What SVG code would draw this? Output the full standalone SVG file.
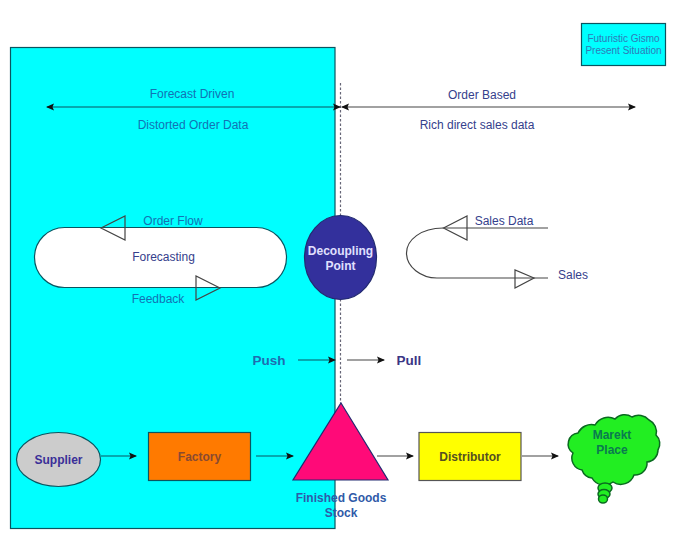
<svg xmlns="http://www.w3.org/2000/svg" width="683" height="553" viewBox="0 0 683 553">
<style>
text{font-family:"Liberation Sans",Arial,sans-serif;text-anchor:middle}
.n{font-size:12px;fill:#35408c}
.t{font-size:12px;fill:#1273b4}
.b{font-size:12px;font-weight:bold;fill:#3a2f98}
.l{stroke:#444;stroke-width:1.200;fill:none}
.c{stroke:#0a5560;stroke-width:1.200;fill:none}
.g{fill:#22ee22;stroke:#0a6a20;stroke-width:1.500}
</style>
<defs>
<marker id="a" markerWidth="8" markerHeight="8" refX="7" refY="4" orient="auto-start-reverse" markerUnits="userSpaceOnUse"><path d="M0 .5L8 4L0 7.500L1.500 4z" fill="#111"/></marker>
</defs>
<rect width="683" height="553" fill="#fff"/>
<rect id="panel" x="10.500" y="47.500" width="324.500" height="481" fill="#00ffff" stroke="#0a5560" stroke-width="1.200"/>
<g id="connectors">
<line x1="340.500" y1="83" x2="340.500" y2="403" stroke="#667" stroke-width="1.200" stroke-dasharray="2.500 2"/>
<line class="c" x1="47" y1="107" x2="340" y2="107" marker-start="url(#a)" marker-end="url(#a)"/>
<line class="l" x1="342" y1="107" x2="635" y2="107" marker-start="url(#a)" marker-end="url(#a)"/>
<line class="c" x1="298" y1="360" x2="335" y2="360" marker-end="url(#a)"/>
<line class="l" x1="347" y1="360" x2="384" y2="360" marker-end="url(#a)"/>
<line class="c" x1="101" y1="456" x2="136" y2="456" marker-end="url(#a)"/>
<line class="c" x1="256" y1="456" x2="293" y2="456" marker-end="url(#a)"/>
<line class="l" x1="377" y1="456" x2="413" y2="456" marker-end="url(#a)"/>
<line class="l" x1="522" y1="456" x2="558" y2="456" marker-end="url(#a)"/>
<path class="l" d="M548 228H443C421 228 406.500 240 406.500 253C406.500 267 421 278 437 278H548"/>
<path class="l" d="M443.500 228L467 216V240Z"/>
<path class="l" d="M534 278L515 270V288Z"/>
</g>
<g id="forecasting">
<rect x="34.500" y="227.500" width="252" height="60" rx="30" fill="#fff" stroke="#0a5560" stroke-width="1.200"/>
<path class="l" d="M101 228L125 216V240Z"/>
<path class="l" d="M220 288L196 276V300Z"/>
<text class="n" x="163.500" y="261">Forecasting</text>
</g>
<g id="decoupling">
<ellipse cx="340.500" cy="257.500" rx="36" ry="42" fill="#33309c" stroke="#222a70" stroke-width="1.200"/>
<text x="340.500" y="255" font-size="12" font-weight="bold" fill="#e0e0ff">Decoupling</text>
<text x="340.500" y="270" font-size="12" font-weight="bold" fill="#e0e0ff">Point</text>
</g>
<g id="supplier">
<ellipse cx="58.500" cy="459.500" rx="42" ry="27" fill="#cccccc" stroke="#0a5560" stroke-width="1.200"/>
<text class="b" x="58.500" y="464">Supplier</text>
</g>
<g id="factory">
<rect x="148.500" y="432.500" width="102" height="48" fill="#ff7a00" stroke="#0a5560" stroke-width="1.200"/>
<text x="199.500" y="461" font-size="12" font-weight="bold" fill="#8a4a30">Factory</text>
</g>
<g id="stock">
<path d="M341 403L388 480H293Z" fill="#ff0a78" stroke="#222a70" stroke-width="1.200"/>
<text class="b" x="341" y="502" style="fill:#2f5aa8">Finished Goods</text>
<text class="b" x="341" y="517" style="fill:#2f5aa8">Stock</text>
</g>
<g id="distributor">
<rect x="419" y="432.500" width="102" height="48" fill="#ffff00" stroke="#555" stroke-width="1.200"/>
<text x="470" y="461" font-size="12" font-weight="bold" fill="#555020">Distributor</text>
</g>
<g id="market">
<path class="g" d="M573 453A11 11 0 0 1 578 433A15 15 0 0 1 595 425A15 15 0 0 1 615 419A13 13 0 0 1 632 417A14 14 0 0 1 649 420A13 13 0 0 1 656 435A12 12 0 0 1 658 450A12 12 0 0 1 647 462A12 12 0 0 1 634 475A14 14 0 0 1 613 482A14 14 0 0 1 592 478A12 12 0 0 1 582 470A12 12 0 0 1 573 453Z"/>
<ellipse class="g" cx="605" cy="488" rx="7" ry="5"/>
<ellipse class="g" cx="604" cy="494" rx="6" ry="4.500"/>
<ellipse class="g" cx="603" cy="499" rx="4.500" ry="4"/>
<text x="612" y="439" font-size="12" font-weight="bold" fill="#0a7a50">Marekt</text>
<text x="612" y="454" font-size="12" font-weight="bold" fill="#0a7a50">Place</text>
</g>
<g id="legend">
<rect x="581.500" y="23.500" width="84" height="42" fill="#00ffff" stroke="#0a5560" stroke-width="1.200"/>
<text x="623.500" y="42" font-size="10" fill="#2f7ab8">Futuristic Gismo</text>
<text x="623.500" y="54" font-size="10" fill="#2f7ab8">Present Situation</text>
</g>
<g id="labels">
<text class="t" x="192" y="98">Forecast Driven</text>
<text class="t" x="193" y="129">Distorted Order Data</text>
<text class="n" x="482" y="99">Order Based</text>
<text class="n" x="477" y="129">Rich direct sales data</text>
<text class="t" x="173" y="225">Order Flow</text>
<text class="t" x="158" y="303">Feedback</text>
<text class="n" x="504" y="225">Sales Data</text>
<text class="n" x="573" y="279">Sales</text>
<text x="269" y="365" font-size="13.500" font-weight="bold" fill="#1f6cb0">Push</text>
<text x="409" y="365" font-size="13.500" font-weight="bold" fill="#3a3585">Pull</text>
</g>
</svg>
